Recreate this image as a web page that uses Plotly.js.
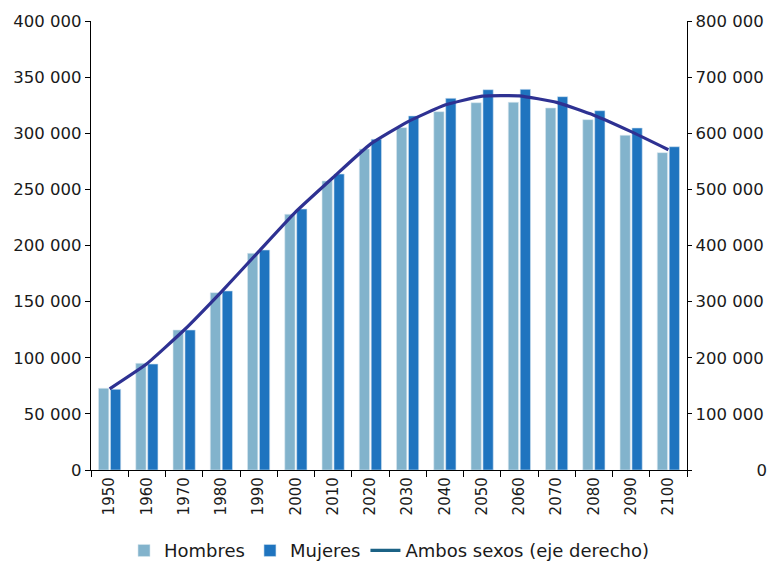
<!DOCTYPE html>
<html>
<head>
<meta charset="utf-8">
<script src="https://cdn.plot.ly/plotly-3.0.1.min.js"></script>
<style>html,body{margin:0;padding:0;background:#fff;}#chart{width:771px;height:562px;}</style>
</head>
<body>
<div id="chart"></div>
<script>
var years = ["1950","1960","1970","1980","1990","2000","2010","2020","2030","2040","2050","2060","2070","2080","2090","2100"];
var hombres = [72800,95000,124700,158000,193000,227800,257500,286000,305000,319200,327200,327600,322500,312100,298200,282700];
var mujeres = [71900,94400,124700,159500,196000,232500,263700,294600,315400,331100,338800,339100,332600,320100,304700,288000];
var ambos = [144700,189400,249400,317500,389000,460300,521200,580600,620400,650300,666000,666700,655100,632200,602900,570700];
var leftTickVals = [0,50000,100000,150000,200000,250000,300000,350000,400000];
var leftTickText = ["0","50 000","100 000","150 000","200 000","250 000","300 000","350 000","400 000"];
var rightTickVals = [0,100000,200000,300000,400000,500000,600000,700000,800000];
var rightTickText = ["\u2007\u2007\u2007\u2007\u2007\u2009 0","100 000","200 000","300 000","400 000","500 000","600 000","700 000","800 000"];

var font = "DejaVu Sans, sans-serif";
var traces = [
  {type:"bar", name:"Hombres", x:years, y:hombres, marker:{color:"#82b3cc", line:{color:"#d6e6ef", width:0.6}}},
  {type:"bar", name:"Mujeres", x:years, y:mujeres, marker:{color:"#1f74bf", line:{color:"#cfe0f0", width:0.6}}},
  {type:"scatter", mode:"lines", name:"Ambos sexos (eje derecho)", x:years, y:ambos, yaxis:"y2",
   line:{color:"#2e3192", width:3.2, shape:"spline", smoothing:0.4}, showlegend:false},
  {type:"scatter", mode:"lines", name:"Ambos sexos (eje derecho)", x:[null], y:[null], yaxis:"y2",
   line:{color:"#1b6285", width:3.2}, showlegend:true}
];
var layout = {
  width:771, height:562,
  margin:{l:91, r:84, t:21, b:92, autoexpand:false},
  paper_bgcolor:"#fff", plot_bgcolor:"#fff",
  font:{family:font, size:16, color:"#1a1a1a"},
  barmode:"group", bargap:0.36, bargroupgap:0.14,
  showlegend:true,
  legend:{orientation:"h", x:0.5, xanchor:"center", yref:"container", y:0.02, yanchor:"middle",
          font:{family:font, size:18, color:"#1a1a1a"}, itemwidth:30, tracegroupgap:0},
  xaxis:{type:"category", tickson:"boundaries", ticks:"outside", ticklen:6, tickcolor:"#000",
         showline:true, linecolor:"#000", linewidth:1.2, tickangle:-90, showgrid:false, automargin:false,
         tickfont:{family:font, size:15, color:"#1a1a1a"}, zeroline:false},
  yaxis:{range:[0,400000], tickvals:leftTickVals, ticktext:leftTickText, ticks:"outside", ticklen:5,
         tickcolor:"#000", showline:true, linecolor:"#000", linewidth:1.2, showgrid:false, zeroline:false,
         automargin:false, tickfont:{family:font, size:16.5, color:"#1a1a1a"}},
  yaxis2:{range:[0,800000], overlaying:"y", side:"right", tickvals:rightTickVals, ticktext:rightTickText,
          ticks:"outside", ticklen:4, tickcolor:"#000", showline:true, linecolor:"#000", linewidth:1.2,
          showgrid:false, zeroline:false, automargin:false, tickfont:{family:font, size:16.5, color:"#1a1a1a"}}
};
Plotly.newPlot("chart", traces, layout, {displayModeBar:false, staticPlot:true});
</script>
</body>
</html>
